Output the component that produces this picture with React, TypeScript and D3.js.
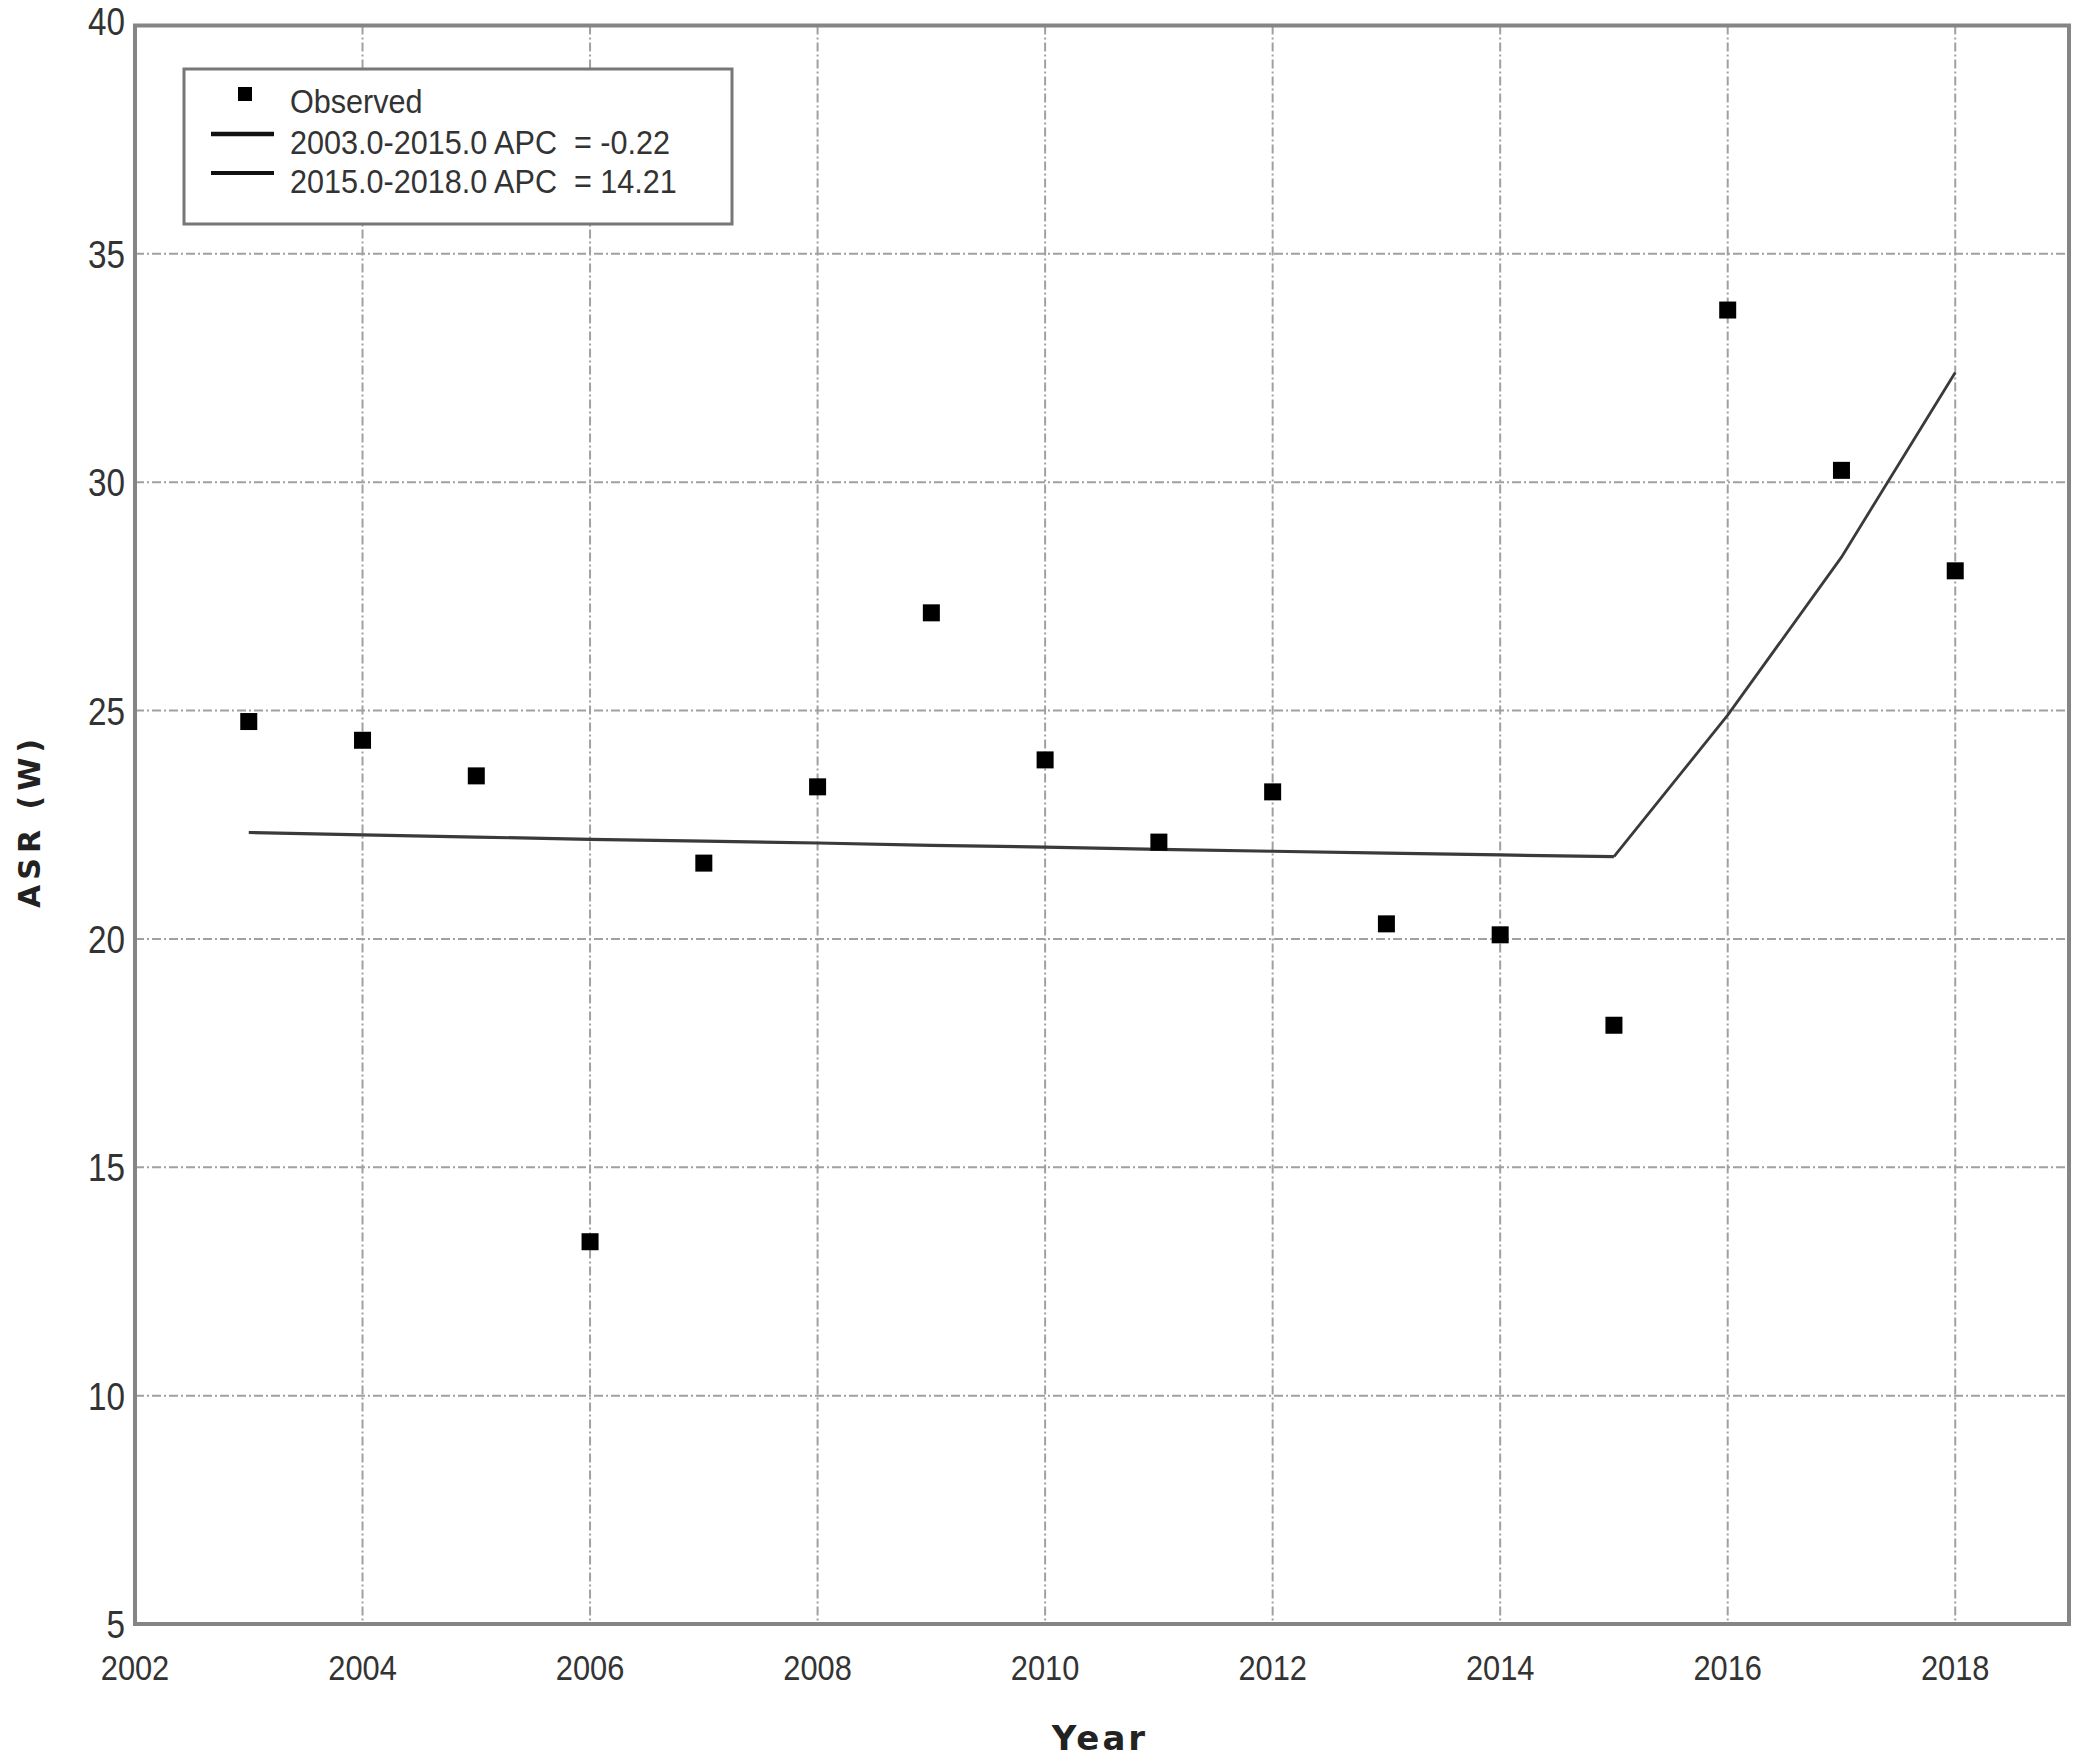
import React from "react";
import * as d3 from "d3";

// observed ASR values by year
const years = [2003, 2004, 2005, 2006, 2007, 2008, 2009, 2010, 2011, 2012, 2013, 2014, 2015, 2016, 2017, 2018];
const observed = [24.76, 24.35, 23.57, 13.37, 21.66, 23.33, 27.14, 23.92, 22.12, 23.22, 20.33, 20.09, 18.11, 33.77, 30.26, 28.06];

// joinpoint fit
const fitYears1 = [2003, 2004, 2005, 2006, 2007, 2008, 2009, 2010, 2011, 2012, 2013, 2014, 2015];
const fitValues1 = [22.33, 22.28, 22.23, 22.18, 22.14, 22.10, 22.05, 22.01, 21.96, 21.92, 21.88, 21.84, 21.80];
const fitYears2 = [2015, 2016, 2017, 2018];
const fitValues2 = [21.80, 24.9, 28.36, 32.4];

const xTicks = [2002, 2004, 2006, 2008, 2010, 2012, 2014, 2016, 2018];
const yTicks = [5, 10, 15, 20, 25, 30, 35, 40];

const legendLabels = ["Observed", "2003.0-2015.0 APC  = -0.22", "2015.0-2018.0 APC  = 14.21"];

export default function App() {
  const W = 2077, H = 1763;
  const margin = { left: 135, right: 8, top: 25.5, bottom: 139 };

  const x = d3.scaleLinear().domain([2002, 2019]).range([margin.left, W - margin.right]);
  const y = d3.scaleLinear().domain([5, 40]).range([H - margin.bottom, margin.top]);

  const fitLine = d3.line<[number, number]>().x(d => x(d[0])).y(d => y(d[1]));
  const seg1 = fitLine(fitYears1.map((yr, i) => [yr, fitValues1[i]]));
  const seg2 = fitLine(fitYears2.map((yr, i) => [yr, fitValues2[i]]));

  const gridColor = "#a0a0a0";
  const dash = "9 3 2 3";
  const font = "'Liberation Sans', Arial, sans-serif";
  const ms = 17;

  const [x0, x1] = x.range();
  const [y0, y1] = y.range();

  return (
    <svg width={W} height={H} style={{ position: "absolute", left: 0, top: 0, background: "#fff" }}>
      <rect x={0} y={0} width={W} height={H} fill="#fff" />

      {/* grid */}
      {yTicks.filter(t => t !== 5 && t !== 40).map(t => (
        <line key={"h" + t} x1={x0} x2={x1} y1={y(t)} y2={y(t)} stroke={gridColor} strokeWidth={2} strokeDasharray={dash} />
      ))}
      {xTicks.filter(t => t !== 2002).map(t => (
        <line key={"v" + t} x1={x(t)} x2={x(t)} y1={y1} y2={y0} stroke={gridColor} strokeWidth={2} strokeDasharray={dash} />
      ))}

      {/* fitted segments */}
      <path d={seg1 || ""} fill="none" stroke="#3a3a3a" strokeWidth={3.2} />
      <path d={seg2 || ""} fill="none" stroke="#3a3a3a" strokeWidth={2.8} />

      {/* observed */}
      {years.map((yr, i) => (
        <rect key={yr} x={x(yr) - ms / 2} y={y(observed[i]) - ms / 2} width={ms} height={ms} fill="#000" />
      ))}

      {/* frame */}
      <rect x={x0} y={y1} width={x1 - x0} height={y0 - y1} fill="none" stroke="#858585" strokeWidth={4} />

      {/* y ticks */}
      {yTicks.map(t => (
        <text key={"yt" + t} transform={`translate(125, ${t === 40 ? y(t) - 4 : y(t)}) scale(0.9, 1.05)`} dy="0.36em" textAnchor="end"
          fontFamily={font} fontSize={37} fill="#333">{t}</text>
      ))}

      {/* x ticks */}
      {xTicks.map(t => (
        <text key={"xt" + t} transform={`translate(${x(t)}, 1680) scale(0.88, 1)`} textAnchor="middle"
          fontFamily={font} fontSize={35} fill="#333">{t}</text>
      ))}

      {/* axis titles */}
      <text x={1100} y={1750} textAnchor="middle" fontFamily="'DejaVu Sans', sans-serif" fontWeight="bold"
        fontSize={34} letterSpacing={3} fill="#222">Year</text>
      <text transform={`translate(40, 821) rotate(-90)`} textAnchor="middle" fontFamily="'DejaVu Sans', sans-serif"
        fontWeight="bold" fontSize={30} letterSpacing={5} fill="#222">ASR (W)</text>

      {/* legend */}
      <g>
        <rect x={184} y={69} width={548} height={155} fill="#fff" stroke="#777" strokeWidth={3} />
        <rect x={245 - 7} y={94 - 7} width={14} height={14} fill="#000" />
        <line x1={211} x2={274} y1={134} y2={134} stroke="#111" strokeWidth={4.5} />
        <line x1={211} x2={274} y1={173} y2={173} stroke="#111" strokeWidth={4} />
        {legendLabels.map((l, i) => (
          <text key={l} transform={`translate(290, ${[113, 154, 193][i]}) scale(0.9, 1)`} fontFamily={font} fontSize={34}
            fill="#333" style={{ whiteSpace: "pre" }}>{l}</text>
        ))}
      </g>
    </svg>
  );
}
